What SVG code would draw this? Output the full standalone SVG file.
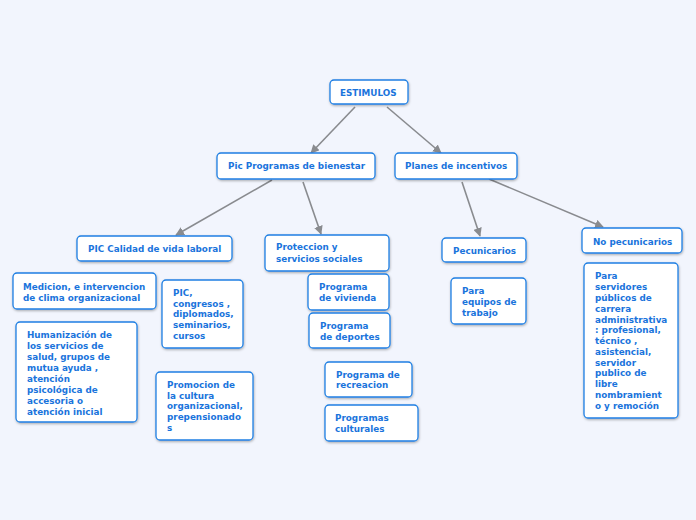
<svg xmlns="http://www.w3.org/2000/svg" width="696" height="520" viewBox="0 0 696 520">
<style>
.n rect{fill:#fff;stroke:#1f7fe3;stroke-width:1.3;filter:url(#sh)}
.n text{font-family:"DejaVu Sans",Verdana,sans-serif;font-weight:bold;font-size:8.8px;fill:#1a74dc}
.c line{stroke:#898b8f;stroke-width:1.6;marker-end:url(#ah)}
</style>
<defs>
<filter id="sh" x="-10%" y="-10%" width="120%" height="130%">
<feDropShadow dx="0.5" dy="1.2" stdDeviation="0.8" flood-color="#000" flood-opacity="0.3"/>
</filter>
<marker id="ah" viewBox="0 0 10 10" refX="9" refY="5" markerWidth="5.5" markerHeight="5.5" orient="auto" markerUnits="strokeWidth">
<path d="M0,0 L10,5 L0,10 z" fill="#898b8f"/>
</marker>
</defs>
<rect width="696" height="520" fill="#f2f5fd"/>
<g class="c">
<line x1="355" y1="107" x2="311" y2="153"/>
<line x1="387" y1="107" x2="441" y2="153"/>
<line x1="272" y1="180" x2="176" y2="235"/>
<line x1="303" y1="182" x2="321" y2="234"/>
<line x1="462" y1="182" x2="480" y2="236"/>
<line x1="489" y1="179" x2="603" y2="227"/>
</g>
<g class="n" id="estimulos"><rect x="330" y="80" width="78" height="24" rx="4"/><text x="340" y="96">ESTIMULOS</text></g>
<g class="n" id="pic-programas"><rect x="217" y="153" width="158" height="26" rx="4"/><text x="228" y="169">Pic Programas de bienestar</text></g>
<g class="n" id="planes"><rect x="395" y="153" width="122" height="26" rx="4"/><text x="405" y="169">Planes de incentivos</text></g>
<g class="n" id="pic-calidad"><rect x="77" y="236" width="155" height="25" rx="4"/><text x="88" y="252">PIC Calidad de vida laboral</text></g>
<g class="n" id="medicion"><rect x="13" y="273" width="143" height="36" rx="4"/><text x="23" y="290">Medicion, e intervencion</text><text x="23" y="300.5">de clima organizacional</text></g>
<g class="n" id="humanizacion"><rect x="16" y="322" width="121" height="100" rx="4"/>
<text x="27" y="338">Humanización de</text><text x="27" y="349">los servicios de</text><text x="27" y="360">salud, grupos de</text><text x="27" y="371">mutua ayuda ,</text><text x="27" y="381.5">atención</text><text x="27" y="392.5">psicológica de</text><text x="27" y="403.5">accesoria o</text><text x="27" y="414.5">atención inicial</text></g>
<g class="n" id="pic-congresos"><rect x="162" y="280" width="81" height="68" rx="4"/>
<text x="173" y="296">PIC,</text><text x="173" y="306.5">congresos ,</text><text x="173" y="317">diplomados,</text><text x="173" y="328">seminarios,</text><text x="173" y="339">cursos</text></g>
<g class="n" id="promocion"><rect x="156" y="372" width="97" height="68" rx="4"/>
<text x="167" y="388">Promocion de</text><text x="167" y="398.5">la cultura</text><text x="167" y="409">organizacional,</text><text x="167" y="420">prepensionado</text><text x="167" y="430.5">s</text></g>
<g class="n" id="proteccion"><rect x="265" y="235" width="124" height="36" rx="4"/><text x="276" y="250">Proteccion y</text><text x="276" y="262">servicios sociales</text></g>
<g class="n" id="vivienda"><rect x="308" y="274" width="81" height="36" rx="4"/><text x="319" y="290">Programa</text><text x="319" y="301">de vivienda</text></g>
<g class="n" id="deportes"><rect x="309" y="313" width="81" height="35" rx="4"/><text x="320" y="329">Programa</text><text x="320" y="340">de deportes</text></g>
<g class="n" id="recreacion"><rect x="325" y="362" width="87" height="35" rx="4"/><text x="336" y="378">Programa de</text><text x="336" y="388">recreacion</text></g>
<g class="n" id="culturales"><rect x="325" y="405" width="93" height="36" rx="4"/><text x="335" y="421">Programas</text><text x="335" y="432">culturales</text></g>
<g class="n" id="pecunicarios"><rect x="442" y="238" width="84" height="24" rx="4"/><text x="453" y="254">Pecunicarios</text></g>
<g class="n" id="no-pecunicarios"><rect x="582" y="228" width="100" height="25" rx="4"/><text x="593" y="245">No pecunicarios</text></g>
<g class="n" id="para-equipos"><rect x="451" y="278" width="75" height="46" rx="4"/><text x="462" y="294">Para</text><text x="462" y="305">equipos de</text><text x="462" y="316">trabajo</text></g>
<g class="n" id="para-servidores"><rect x="584" y="263" width="94" height="155" rx="4"/>
<text x="595" y="279">Para</text><text x="595" y="290">servidores</text><text x="595" y="301">públicos de</text><text x="595" y="311.5">carrera</text><text x="595" y="322.5">administrativa</text><text x="595" y="333">: profesional,</text><text x="595" y="344">técnico ,</text><text x="595" y="354.5">asistencial,</text><text x="595" y="365.5">servidor</text><text x="595" y="376">publico de</text><text x="595" y="387">libre</text><text x="595" y="398">nombramient</text><text x="595" y="409">o y remoción</text></g>
</svg>
